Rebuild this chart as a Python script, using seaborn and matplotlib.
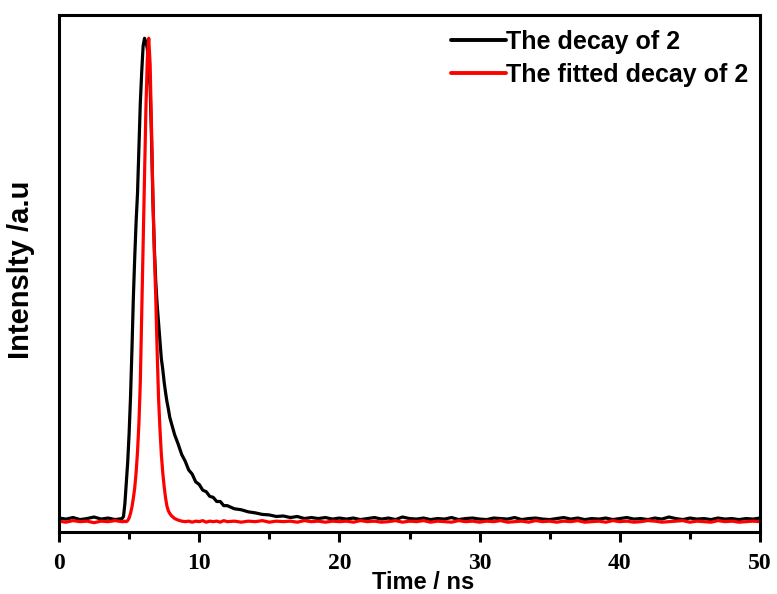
import numpy as np
import pandas as pd
import seaborn as sns
import matplotlib.pyplot as plt
from matplotlib.ticker import MultipleLocator, NullLocator

sns.set_theme(
    style="ticks",
    rc={
        "axes.linewidth": 2.2,
        "axes.edgecolor": "black",
        "axes.labelcolor": "black",
        "text.color": "black",
        "xtick.color": "black",
        "xtick.direction": "out",
        "xtick.major.size": 7,
        "xtick.minor.size": 5,
        "xtick.major.width": 2.2,
        "xtick.minor.width": 2.2,
    },
)
plt.rcParams["font.family"] = ["Liberation Sans", "DejaVu Sans"]

# time axis (ns)
time_ns = [
    0.0, 0.5, 1.0, 1.5, 2.0, 2.5, 3.0, 3.5, 4.0, 4.5,
    4.6, 4.7, 4.8, 4.9, 5.0, 5.1, 5.2, 5.3, 5.4, 5.5, 5.6, 5.7, 5.8, 5.9,
    6.0, 6.1, 6.2, 6.3, 6.4, 6.5, 6.6, 6.7, 6.8, 6.9, 7.0, 7.1, 7.2, 7.3,
    7.4, 7.5, 7.6, 7.7, 7.8, 7.9, 8.0,
    8.25, 8.5, 8.75, 9.0, 9.25, 9.5, 9.75, 10.0, 10.25, 10.5, 10.75, 11.0,
    11.25, 11.5, 11.75, 12.0, 12.5, 13.0, 13.5, 14.0, 14.5, 15.0, 15.5,
    16.0, 16.5, 17.0, 17.5, 18.0, 18.5, 19.0, 19.5, 20.0,
    20.5, 21.0, 21.5, 22.0, 22.5, 23.0, 23.5, 24.0, 24.5, 25.0,
    25.5, 26.0, 26.5, 27.0, 27.5, 28.0, 28.5, 29.0, 29.5, 30.0,
    30.5, 31.0, 31.5, 32.0, 32.5, 33.0, 33.5, 34.0, 34.5, 35.0,
    35.5, 36.0, 36.5, 37.0, 37.5, 38.0, 38.5, 39.0, 39.5, 40.0,
    40.5, 41.0, 41.5, 42.0, 42.5, 43.0, 43.5, 44.0, 44.5, 45.0,
    45.5, 46.0, 46.5, 47.0, 47.5, 48.0, 48.5, 49.0, 49.5, 50.0,
]

# measured decay (normalised intensity)
decay = [
    0.027, 0.025, 0.028, 0.024, 0.026, 0.029, 0.025, 0.027, 0.024, 0.026,
    0.030, 0.055, 0.095, 0.135, 0.19, 0.26, 0.35, 0.45, 0.53, 0.60, 0.655,
    0.74, 0.83, 0.89, 0.94, 0.955, 0.948, 0.935, 0.90, 0.86, 0.76, 0.64,
    0.55, 0.485, 0.44, 0.405, 0.37, 0.335, 0.315, 0.29, 0.27, 0.252, 0.238,
    0.222, 0.212,
    0.188, 0.170, 0.150, 0.137, 0.120, 0.112, 0.097, 0.092, 0.081, 0.078,
    0.069, 0.067, 0.059, 0.059, 0.051, 0.051, 0.045, 0.043, 0.039, 0.037,
    0.034, 0.033, 0.030, 0.031, 0.028, 0.030, 0.026, 0.028, 0.026, 0.028,
    0.025, 0.027,
    0.025, 0.027, 0.024, 0.026, 0.028, 0.025, 0.027, 0.024, 0.029, 0.026,
    0.025, 0.027, 0.024, 0.026, 0.025, 0.028, 0.024, 0.026, 0.027, 0.025,
    0.024, 0.027, 0.026, 0.025, 0.028, 0.024, 0.026, 0.027, 0.025, 0.024,
    0.026, 0.028, 0.025, 0.027, 0.024, 0.026, 0.025, 0.027, 0.024, 0.026,
    0.028, 0.025, 0.026, 0.024, 0.027, 0.025, 0.029, 0.026, 0.024, 0.027,
    0.025, 0.026, 0.024, 0.027, 0.025, 0.026, 0.024, 0.026, 0.025, 0.027,
]

# fitted decay
fitted = [
    0.021, 0.019, 0.022, 0.020, 0.021, 0.018, 0.021, 0.020, 0.022, 0.020,
    0.020, 0.021, 0.020, 0.022, 0.027, 0.036, 0.048, 0.065, 0.085, 0.115,
    0.155, 0.21, 0.29, 0.42, 0.55, 0.67, 0.82, 0.915, 0.955, 0.905, 0.78,
    0.645, 0.54, 0.455, 0.35, 0.26, 0.20, 0.15, 0.115, 0.088, 0.066, 0.050,
    0.041, 0.036, 0.032,
    0.026, 0.023, 0.021, 0.020, 0.021, 0.019, 0.021, 0.020, 0.022, 0.019,
    0.021, 0.020, 0.021, 0.019, 0.022, 0.020, 0.021, 0.019, 0.021, 0.020,
    0.022, 0.019, 0.021, 0.020, 0.021, 0.019, 0.022, 0.020, 0.021, 0.019,
    0.021, 0.020,
    0.021, 0.019, 0.022, 0.020, 0.021, 0.019, 0.020, 0.022, 0.019, 0.021,
    0.020, 0.022, 0.019, 0.021, 0.020, 0.019, 0.022, 0.020, 0.021, 0.019,
    0.021, 0.020, 0.022, 0.019, 0.020, 0.021, 0.019, 0.022, 0.020, 0.021,
    0.019, 0.021, 0.020, 0.022, 0.019, 0.020, 0.021, 0.019, 0.022, 0.020,
    0.021, 0.019, 0.020, 0.022, 0.021, 0.019, 0.020, 0.021, 0.022, 0.019,
    0.021, 0.020, 0.019, 0.022, 0.020, 0.021, 0.019, 0.020, 0.021, 0.020,
]

labels = ["The decay of 2", "The fitted decay of 2"]
colors = {"The decay of 2": "black", "The fitted decay of 2": "#ff0000"}

df = pd.concat([
    pd.DataFrame({"time": time_ns, "intensity": decay, "series": labels[0]}),
    pd.DataFrame({"time": time_ns, "intensity": fitted, "series": labels[1]}),
])

fig = plt.figure(figsize=(7.77, 5.94), dpi=100)
ax = fig.add_axes([59 / 777, 1 - 532 / 594, 701 / 777, 517 / 594])

sns.lineplot(
    data=df, x="time", y="intensity", hue="series", palette=colors,
    estimator=None, sort=False, linewidth=2.3, ax=ax,
)

ax.set_xlim(0, 50)
ax.set_ylim(0, 1.0)
ax.xaxis.set_major_locator(MultipleLocator(10))
ax.xaxis.set_minor_locator(MultipleLocator(5))
ax.yaxis.set_major_locator(NullLocator())
for lab in ax.get_xticklabels():
    lab.set_fontfamily("Liberation Serif")
    lab.set_fontweight("bold")
    lab.set_fontsize(17)
ax.tick_params(axis="x", pad=8)

ax.set_xlabel("Time / ns", fontsize=17, fontweight="bold")
ax.xaxis.set_label_coords(0.52, -0.075)
ax.set_ylabel("Intenslty /a.u", fontsize=21, fontweight="bold")
ax.yaxis.set_label_coords(-0.034, 0.507)

leg = ax.legend(
    loc="upper right", bbox_to_anchor=(0.998, 0.99), frameon=False,
    fontsize=18, handlelength=2.2, handletextpad=0.0, labelspacing=0.36,
    borderaxespad=0.0,
)
for t in leg.get_texts():
    t.set_fontweight("bold")
for h in leg.get_lines():
    h.set_linewidth(2.8)

fig.savefig("out.png", dpi=100)
